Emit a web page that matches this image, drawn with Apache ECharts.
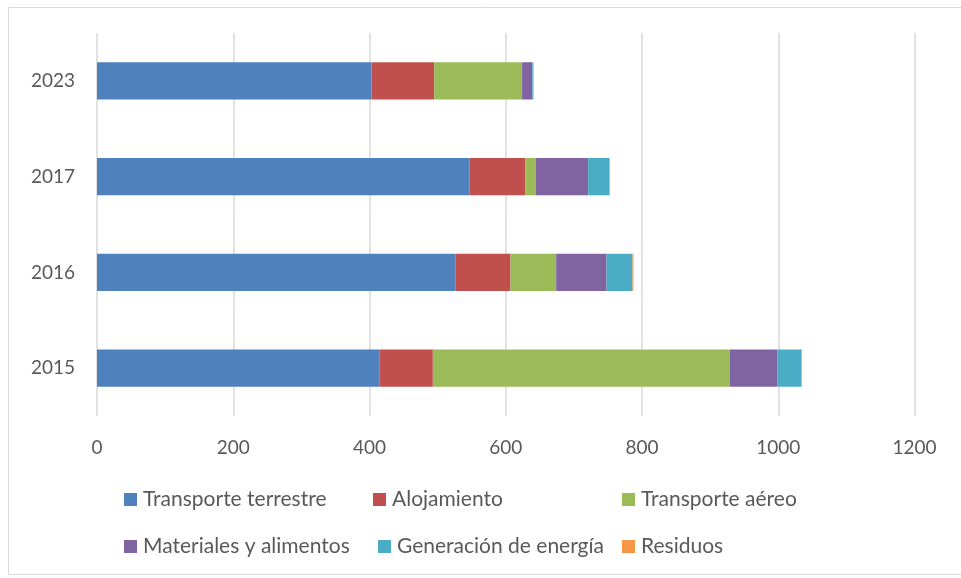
<!DOCTYPE html>
<html>
<head>
<meta charset="utf-8">
<script src="https://cdn.jsdelivr.net/npm/echarts@6/dist/echarts.min.js"></script>
<style>
  html, body { margin: 0; padding: 0; background: #fff; }
  #chart { width: 961px; height: 578px; }
</style>
</head>
<body>
<div id="chart"></div>
<script>
// Years (bottom to top) and emission totals per source
const years = ['2015', '2016', '2017', '2023'];
const seriesNames = ['Transporte terrestre', 'Alojamiento', 'Transporte aéreo',
                     'Materiales y alimentos', 'Generación de energía', 'Residuos'];
const transporteTerrestre = [415, 526, 547, 403];
const alojamiento        = [78, 81, 82, 92];
const transporteAereo    = [436, 67, 15, 129];
const materiales         = [70, 74, 77, 15];
const generacion         = [35, 38, 31, 1.5];
const residuos           = [1, 1.5, 1, 0.5];
const xTicks = { min: 0, max: 1200, interval: 200 };

const values = [transporteTerrestre, alojamiento, transporteAereo, materiales, generacion, residuos];
const colors = ['#4F81BD', '#C0504D', '#9BBB59', '#8064A2', '#4BACC6', '#F79646'];
const font = 'Lato, "Open Sans", sans-serif';
const textColor = '#595959';

const chart = echarts.init(document.getElementById('chart'));

// One legend block per entry so they sit in three fixed columns
const legendPos = [
  [124, 489], [373, 489], [622, 489],
  [124, 536], [378, 536], [622, 536]
];
const legends = seriesNames.map((name, i) => ({
  data: [name],
  left: legendPos[i][0],
  top: legendPos[i][1],
  orient: 'horizontal',
  icon: 'rect',
  itemWidth: 13,
  itemHeight: 13,
  itemGap: 0,
  padding: 0,
  selectedMode: false,
  textStyle: { color: textColor, fontSize: 21, fontFamily: font, padding: [0, 0, 0, 1] }
}));

chart.setOption({
  animation: false,
  color: colors,
  graphic: [{
    type: 'rect',
    shape: { x: 8.5, y: 7.5, width: 960, height: 567 },
    style: { fill: 'none', stroke: '#d9d9d9', lineWidth: 1 },
    silent: true
  }],
  grid: { left: 97, right: 46.5, top: 33, height: 383 },
  legend: legends,
  xAxis: {
    type: 'value',
    min: xTicks.min,
    max: xTicks.max,
    interval: xTicks.interval,
    axisLine: { show: false },
    axisTick: { show: false },
    splitLine: { show: true, lineStyle: { color: '#d9d9d9', width: 1.5 } },
    axisLabel: {
      color: textColor, fontSize: 19, fontFamily: font, margin: 22,
      formatter: v => String(v)
    }
  },
  yAxis: {
    type: 'category',
    data: years,
    axisLine: { show: false },
    axisTick: { show: false },
    axisLabel: { color: textColor, fontSize: 19, fontFamily: font, margin: 22 }
  },
  series: seriesNames.map((name, i) => ({
    name: name,
    type: 'bar',
    stack: 'total',
    barWidth: '39%',
    data: values[i],
    itemStyle: { color: colors[i] }
  }))
});
</script>
</body>
</html>
